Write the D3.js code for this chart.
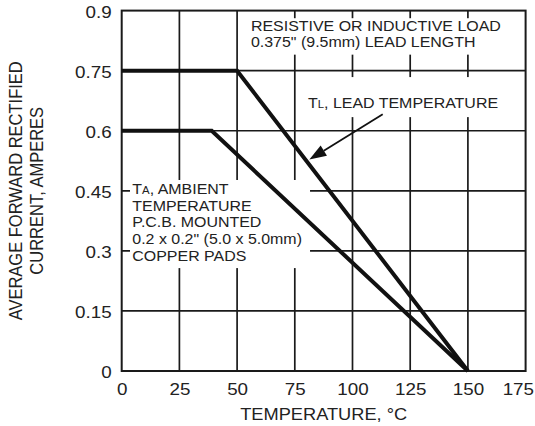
<!DOCTYPE html>
<html>
<head>
<meta charset="utf-8">
<script src="https://cdn.jsdelivr.net/npm/d3@7"></script>
<style>
  body { margin: 0; background: #fff; }
  svg text { font-family: "Liberation Sans", Arial, sans-serif; fill: #222; }
</style>
</head>
<body>
<div id="chart"></div>
<script>
// Chart data
const xTicks = [0, 25, 50, 75, 100, 125, 150, 175];
const yTicks = [0, 0.15, 0.3, 0.45, 0.6, 0.75, 0.9];
const leadTemp = [[0, 0.75], [50, 0.75], [150, 0]];
const ambientTemp = [[0, 0.6], [39, 0.6], [150, 0]];

const xTitle = "TEMPERATURE, °C";
const yTitle = ["AVERAGE FORWARD RECTIFIED", "CURRENT, AMPERES"];

// annotations, anchored in data units
const noteLoad = ["RESISTIVE OR INDUCTIVE LOAD", "0.375\" (9.5mm) LEAD LENGTH"];
const noteAmbient = ["AMBIENT", "TEMPERATURE", "P.C.B. MOUNTED", "0.2 x 0.2\" (5.0 x 5.0mm)", "COPPER PADS"];

const width = 535, height = 426;
const margin = { top: 10.6, right: 9.4, bottom: 55, left: 121.7 };
const stretch = 1.14; // the source type is a bit wide

const svg = d3.select("#chart").append("svg")
    .attr("width", width)
    .attr("height", height);

const x = d3.scaleLinear().domain([0, 175]).range([margin.left, width - margin.right]);
const y = d3.scaleLinear().domain([0, 0.9]).range([height - margin.bottom, margin.top]);

// grid
const grid = svg.append("g").attr("stroke", "#1a1a1a").attr("stroke-width", 1.7);
grid.selectAll(".vx").data(xTicks.slice(1, -1)).enter().append("line")
    .attr("x1", d => x(d)).attr("x2", d => x(d))
    .attr("y1", y(0)).attr("y2", y(0.9));
grid.selectAll(".hy").data(yTicks.slice(1, -1)).enter().append("line")
    .attr("y1", d => y(d)).attr("y2", d => y(d))
    .attr("x1", x(0)).attr("x2", x(175));

// white boxes behind the notes
const boxes = [
    { x0: 53, x1: 174.5, y0: 0.881, y1: 0.79 },
    { x0: 78.5, x1: 166, y0: 0.734, y1: 0.634 },
    { x0: 3.6, x1: 81.6, y0: 0.477, y1: 0.257 }
];
svg.append("g").selectAll("rect").data(boxes).enter().append("rect")
    .attr("x", d => x(d.x0)).attr("y", d => y(d.y0))
    .attr("width", d => x(d.x1) - x(d.x0))
    .attr("height", d => y(d.y1) - y(d.y0))
    .attr("fill", "#fff");

// frame
svg.append("rect")
    .attr("x", x(0)).attr("y", y(0.9))
    .attr("width", x(175) - x(0)).attr("height", y(0) - y(0.9))
    .attr("fill", "none").attr("stroke", "#1a1a1a").attr("stroke-width", 2);

// axes (labels only)
const xAxis = svg.append("g")
    .attr("transform", `translate(0,${y(0)})`)
    .call(d3.axisBottom(x).tickValues(xTicks).tickSize(0).tickPadding(12).tickFormat(d3.format("d")));
const yAxis = svg.append("g")
    .attr("transform", `translate(${x(0)},0)`)
    .call(d3.axisLeft(y).tickValues(yTicks).tickSize(0).tickFormat(d3.format("~g")));
[xAxis, yAxis].forEach(a => {
    a.select(".domain").remove();
    a.selectAll("text").attr("font-size", 16.5).attr("fill", "#222")
        .attr("font-family", "Liberation Sans, Arial, sans-serif");
});
yAxis.selectAll("text").attr("x", -10 / stretch).attr("dy", "0.4em")
    .attr("transform", `scale(${stretch},1)`);
xAxis.selectAll("text").attr("transform", `scale(${stretch},1)`);
// keep the last x label inside the page, as in the source
xAxis.selectAll("text").filter(d => d === 175)
    .attr("text-anchor", "end")
    .attr("x", (width - 1.5 - x(175)) / stretch);

// axis titles
svg.append("text")
    .attr("transform", `translate(${(x(0) + x(175)) / 2},420) scale(${stretch},1)`)
    .attr("text-anchor", "middle")
    .attr("font-size", 16)
    .text(xTitle);
yTitle.forEach((t, i) => {
    svg.append("text")
        .attr("transform", `translate(${22.3 + i * 21},${(y(0) + y(0.9)) / 2}) scale(${stretch},1) rotate(-90)`)
        .attr("text-anchor", "middle")
        .attr("font-size", 16.5)
        .text(t);
});

// notes
function note(lines, x0, yFirst, sub) {
    const g = svg.append("g");
    lines.forEach((t, i) => {
        const tx = g.append("text")
            .attr("transform", `translate(${x(x0)},${y(yFirst) + i * 16.7}) scale(${stretch},1)`)
            .attr("font-size", 14);
        if (i === 0 && sub) {
            tx.append("tspan").text("T");
            tx.append("tspan").attr("font-size", 10).text(sub);
            tx.append("tspan").text(", " + t);
        } else {
            tx.text(t);
        }
    });
}
note(noteLoad, 56, 0.85);
note(["LEAD TEMPERATURE"], 80.7, 0.657, "L");
note(noteAmbient, 4.6, 0.442, "A");

// curves
const line = d3.line().x(d => x(d[0])).y(d => y(d[1]));
svg.append("g").selectAll("path").data([leadTemp, ambientTemp]).enter().append("path")
    .attr("d", line)
    .attr("fill", "none")
    .attr("stroke", "#111")
    .attr("stroke-width", 4)
    .attr("stroke-linejoin", "miter");

// arrow to the lead curve
const tail = [x(113.1), y(0.641)], tip = [x(81.3), y(0.528)];
const ang = Math.atan2(tip[1] - tail[1], tip[0] - tail[0]);
const headLen = 17, headHalf = 6;
const bx = tip[0] - headLen * Math.cos(ang), by = tip[1] - headLen * Math.sin(ang);
svg.append("line")
    .attr("x1", tail[0]).attr("y1", tail[1])
    .attr("x2", bx).attr("y2", by)
    .attr("stroke", "#111").attr("stroke-width", 1.8);
svg.append("path")
    .attr("d", d3.line()([
        tip,
        [bx + headHalf * Math.sin(ang), by - headHalf * Math.cos(ang)],
        [bx - headHalf * Math.sin(ang), by + headHalf * Math.cos(ang)]
    ]) + "Z")
    .attr("fill", "#111");
</script>
</body>
</html>
